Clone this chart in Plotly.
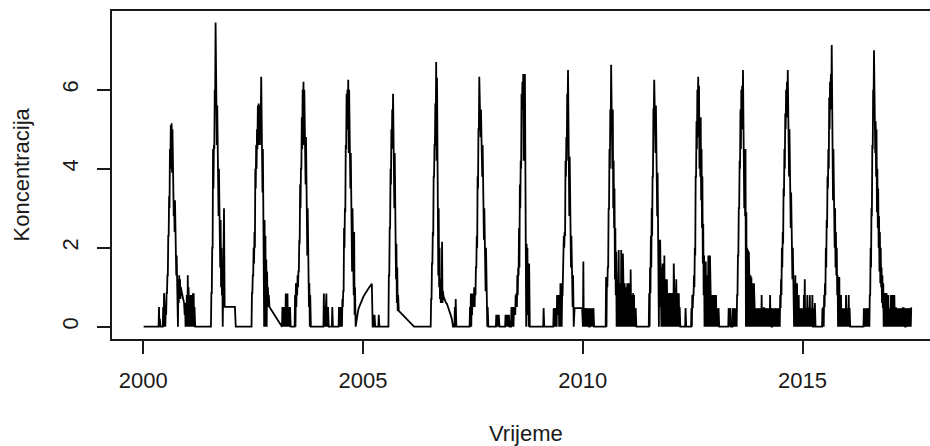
import plotly.graph_objects as go

# Weekly readings per calendar year (week index 0..51).
# A number = one reading that week; [a, b] = two readings that week; None = no reading.
y2000 = [0]*18 + [[0,0.5],[0,0.2]] + [0]*3 + [[0,0.5],[0,0.85],[0.2,0.5],[0,0.5],[0.3,0.85],[0.85,1.3],[1.3,2.3],[2.3,3.3],[3.0,4.5],[4.0,5.1],[4.0,5.15],[3.9,5.0],[3.5,4.5],[2.8,3.2],[2.4,3.2],[1.7,2.8],[1.3,1.8],[0.9,1.5],[0,1.2],[0.6,1.3],[0.8,1.2],[0.7,1.0],0.9,0.8,0.7,0.6,[0.3,0.6],[0,0.4],[0,0.8]]
y2001 = [[0,1.3],[0,1.0],[0,0.8],[0,0.8],[0,0.5],[0.3,0.8],[0,0.85],[0,0.85],[0,0.5]] + [0]*19 + [[0,0.85],[0.85,2.0],[2.0,4.5],[3.5,4.6],[4.5,6.0],[5.8,7.7],[5.6,6.7],[4.6,5.6],[3.5,4.6],[2.8,4.0],[2.6,3.5],[1.5,2.7],[1.0,2.0],[0.8,1.5],[0,0.9],[0.5,3.0],0.5] + [0.5]*7
y2002 = [0.5]*5 + [0]*19 + [[0,0.85],[0.85,1.3],[1.3,2.0],[1.6,2.4],[2.0,4.0],[3.5,4.6],[4.0,5.0],[4.5,5.6],[4.6,5.65],[5.0,5.6],[4.6,5.5],[5.4,6.33],[4.5,5.6],[3.4,4.5],[2.7,4.0],[0,2.7],[0.8,2.3],[0,1.7],[0,1.4],[0.5,1.0],[0.5,0.8],0.5] + [None]*6
y2003 = [None]*7 + [0] + [[0,0.5],[0,0.5],[0,0.5],[0,0.5],[0,0.84],[0.5,0.84],[0,0.84],[0,0.5],[0,0.5],[0,0.5]] + [0]*5 + [[0,0.8],[0,1.1],[0.5,1.1],[0.8,1.3],[1.0,1.4],[1.4,2.2],[2.1,3.6],[3.0,4.0],[4.0,5.3],[4.5,6.0],[5.3,6.2],[4.6,6.0],[4.2,5.4],[3.6,4.8],[2.5,3.4],[1.8,3.0],[1.3,2.0],[0.5,1.1],[0,0.8]] + [0]*10
y2004 = [0]*5 + [[0,0.84],[0,0.5],[0,0.5],[0.5,0.84],[0,0.5],[0,0.5]] + [0]*4 + [[0,0.5]] + [0]*7 + [[0,0.5],[0,0.5],[0,0.5],[0,0.5],[0,0.7],[0.5,0.9],[0.9,2.5],[2.0,3.0],[2.9,4.6],[4.5,5.9],[5.0,6.0],[5.6,6.25],[4.4,6.0],[4.0,5.2],[3.5,4.4],[3.0,3.8],[1.4,3.0],[1.4,2.3],[0.8,2.4],[0.3,1.0]] + [0,0.2,0.32,0.42,0.49,0.55,0.6,0.67,0.72]
y2005 = [0.76,0.8,0.84,0.87,0.9,0.93,0.97,1.0,1.03,1.06,1.09] + [0] + [[0,0.3],[0,0.3]] + [0]*4 + [[0,0.3]] + [0]*11 + [[0,1.3],[1.3,2.5],[2.5,4.0],[3.6,5.0],[4.5,5.5],[5.0,5.9],[3.6,4.8],[3.0,4.4],[2.1,3.3],[1.2,2.1],[0.6,1.5],[0.4,0.8],0.4] + [None]*9
y2006 = [None]*7 + [0]*21 + [[0,0.7],[0.7,1.6],[1.6,2.4],[2.3,3.8],[3.8,4.6],[4.6,5.66],[5.0,6.7],[4.2,6.3],[3.0,4.5],[1.3,3.0],[1.0,2.0],[0.7,1.2],[0.6,1.0],[0.7,2.15],[0.6,0.9]] + [0.76,0.7,0.65,0.6,0.58,0.52,0.46,0.41,0.36]
y2007 = [0.25,0.15,0,0,[0,0.5],[0,0.7]] + [0]*16 + [[0,0.5],[0,0.84],[0,0.84],[0.3,0.84],[0.5,0.84],[0.5,1.0],[0.5,1.0],[0.8,1.5],[1.5,2.3],[2.0,3.8],[3.5,5.0],[5.0,6.33],[5.2,5.7],[4.8,5.5],[4.2,5.0],[3.8,4.6],[2.8,3.8],[2.2,3.0],[1.8,2.5],[0.9,2.0],[0.4,1.0],[0,0.5]] + [0]*8
y2008 = [0,[0,0.3],[0,0.3],0,[0,0.3],0] + [0]*6 + [[0,0.3],[0,0.2],[0,0.3],[0,0.2],[0,0.3],0] + [0] + [[0,0.5],[0,0.3],[0,0.5],[0,0.5],[0.3,0.5],[0.3,0.8],[0.5,0.85],[0.5,1.3],[0.8,1.5],[1.3,2.5],[1.5,3.6],[3.0,4.2],[4.0,5.9],[5.5,6.2],[5.5,6.4],[4.2,6.1],[4.4,6.4],[2.0,4.4],[0,2.1],[0.5,2.0],[0.3,1.0],[0,1.6]] + [0]*11
y2009 = [0]*5 + [[0,0.47]] + [0]*11 + [[0,0.47],[0,0.47],[0.3,0.47],[0,0.47],[0,0.8],[0.47,0.8],[0.3,0.8],[0,0.47],[0,1.1],[0.47,1.1],[0,0.8],[0.8,1.5],[1.0,2.3],[2.0,2.4],[2.3,4.2],[3.8,4.8],[4.2,5.9],[5.5,6.5],[4.0,5.8],[2.8,4.3],[2.3,3.0],[1.5,2.3],[1.0,1.9],[0.5,1.3],0] + [0.47]*10
y2010 = [[0,1.65],[0,0.47],[0,0.47],0.47,[0,0.47],[0,0.47],[0,0.47],0,[0,0.47],[0,0.47],[0,0.47],[0,0.47],[0,0.47]] + [0]*14 + [[0,1.26],[0,1.26],[1.0,1.5],[1.5,3.0],[2.96,4.5],[4.0,5.5],[5.0,6.63],[4.5,6.0],[4.0,5.5],[3.0,4.2],[2.5,3.5],[1.2,2.5],[0.8,1.9],[0,1.2],[0,1.0],[0.47,1.94],[0,1.1],[0.47,1.0],[0,1.94],[0.47,1.0],[0,1.85],[0.47,0.8],[0,1.1],[0.47,0.8],[0,1.0]]
y2011 = [[0.47,1.1],[0,0.8],[0.47,1.1],[0,0.8],[0,1.45],[0.47,0.8],[0,0.8],[0.47,0.85],[0,0.8],[0,0.47],[0,0.47]] + [0]*15 + [[0,0.85],[0,1.5],[0.85,2.3],[1.5,3.0],[2.3,3.8],[3.8,5.5],[5.5,6.25],[5.3,6.0],[4.4,5.6],[3.5,4.7],[2.8,3.9],[2.0,3.0],[0,2.2],[0.5,2.2],[0.5,1.7],[0,1.5],[0.5,1.6],[0,1.3],[0.5,1.8],[0,1.2],[0.5,1.1],[0,1.2],[0.5,0.85],[0,0.85],[0.5,0.85],[0,0.85]]
y2012 = [[0.5,0.85],[0,0.85],[0.5,0.85],[0,1.6],[0.5,0.85],[0,0.85],[0.5,1.2],[0,0.85],[0.5,0.85],[0,0.85],[0,0.5]] + [0]*6 + [[0,0.47]] + [0]*6 + [[0,0.47],[0,0.8],[0.47,0.8],[0.8,1.3],[1.0,2.0],[1.8,3.8],[3.8,5.2],[4.5,6.0],[5.5,6.33],[4.8,6.1],[4.0,5.0],[3.8,5.3],[3.2,4.5],[2.5,3.8],[1.6,2.6],[0.8,1.8],[0,1.3],[0.5,1.65],[0,1.3],[0.5,1.1],[0,1.8],[0.5,1.0],[0,1.8],[0.5,0.8],[0,0.8],[0.47,0.8],[0,0.8],[0.47,0.8]]
y2013 = [[0,0.8],[0.47,0.8],[0,0.47],[0,0.47],[0,0.47]] + [0]*11 + [[0,0.47],0,[0,0.47],0,0,[0,0.47],0,[0,0.47],[0,0.47],0,[0,0.8],[0.8,1.8],[1.8,3.0],[3.0,4.2],[4.0,5.5],[4.5,6.0],[5.0,6.1],[5.2,6.5],[4.2,5.4],[3.0,4.5],[2.8,4.5],[0,2.9],[0,2.0],[0.5,1.94],[0,1.9],[0.5,1.5],[0,1.3],[0.47,1.25],[0,1.1],[0.47,0.85],[0,1.1],[0.47,0.85],[0,0.47],[0,0.47],[0,0.47],[0,0.47]]
y2014 = [[0,0.47],[0,0.47],[0,0.47],[0,0.8],[0,0.47],[0,0.47],[0.47,0.47],[0,0.47],[0,0.47],0,[0,0.47],[0,0.47],[0,0.47],[0,0.8],[0,0.47],0,[0,0.47],[0,0.47],[0,0.47],[0,0.47],0,[0,0.47],[0,0.47],[0,0.47],[0,0.47]] + [[0,0.8],[0.47,1.2],[0.8,2.0],[1.5,2.4],[2.1,3.5],[3.3,4.5],[4.0,5.4],[5.0,6.0],[5.3,6.2],[5.5,6.5],[4.6,5.8],[3.8,5.0],[3.0,4.0],[2.5,3.4],[1.8,2.8],[1.2,2.0],[0.8,1.4],[0,1.0],[0.47,1.3],[0,0.85],[0.47,1.1],[0,0.47],[0,0.8],[0,0.47],[0,0.47],[0,0.47],[0,0.47]]
y2015 = [[0,0.47],[0,0.8],[0,1.2],[0,0.47],[0,0.47],[0,0.8],[0,0.47],[0.47,0.47],[0,0.8],[0,0.47],[0,0.47],[0,0.8],0,[0,0.47],[0,0.6]] + [0]*8 + [[0,0.47],[0,0.5],[0,0.8],[0.5,1.1],[0.8,2.0],[1.5,2.7],[2.5,3.8],[3.5,4.5],[4.0,5.8],[5.0,6.2],[5.8,6.4],[5.5,7.13],[4.0,6.0],[3.2,4.5],[2.5,3.8],[2.0,3.0],[1.5,2.4],[1.3,2.0],[0.8,1.3],[0,1.2],[0.5,1.26],[0,0.8],[0.47,0.8],[0,0.47],[0,0.47],[0,0.47],[0,0.47],[0,0.47],[0,0.8]]
y2016 = [[0,0.47],[0,0.47],[0,0.8],[0,0.47]] + [0]*16 + [[0,0.47],[0,0.47],[0,0.47],[0,0.47],[0,0.47],0,[0,0.47],[0,0.8],[0.8,2.0],[1.5,3.0],[2.8,4.6],[4.5,6.0],[5.7,7.0],[5.0,6.2],[4.4,5.2],[3.8,5.0],[2.9,4.0],[2.5,3.5],[2.0,2.8],[1.4,2.4],[1.1,2.0],[1.0,1.5],[0.6,1.3],[0.47,1.1],[0,0.85],[0.47,0.85],[0,0.85],[0.47,0.85],[0,0.47],[0,0.8],[0,0.47],[0,0.47]]
y2017 = [[0,0.8],[0,0.47],[0,0.8],[0,0.47],[0,0.8],[0,0.47],[0.47,0.47],[0,0.47],[0,0.47],[0,0.47],[0,0.47],[0,0.47],0,[0,0.47],[0,0.47],[0.47,0.47],[0,0.47],0,[0,0.47],[0,0.47],[0,0.47],0,[0,0.47],[0,0.47],[0,0.47],0.47]

years = list(range(2000, 2018))
yearly = [y2000, y2001, y2002, y2003, y2004, y2005, y2006, y2007, y2008,
          y2009, y2010, y2011, y2012, y2013, y2014, y2015, y2016, y2017]

x_ticks = [2000, 2005, 2010, 2015]
x_tick_labels = ["2000", "2005", "2010", "2015"]
y_ticks = [0, 2, 4, 6]
y_tick_labels = ["0", "2", "4", "6"]

xs, ys = [], []
for yr, vals in zip(years, yearly):
    for w, v in enumerate(vals):
        day0 = 7 * w
        if isinstance(v, list):
            xs.append(yr + (day0 + 1) / 365.25); ys.append(v[0])
            xs.append(yr + (day0 + 4.5) / 365.25); ys.append(v[1])
        else:
            xs.append(yr + (day0 + 3) / 365.25); ys.append(v)

FONT = "Liberation Sans, Arial, Helvetica, sans-serif"
INK = "#1a1a1a"

fig = go.Figure()
fig.add_trace(go.Scatter(x=xs, y=ys, mode="lines", connectgaps=True,
                         line=dict(color="#000000", width=1.8), hoverinfo="skip"))

axis_common = dict(showgrid=False, zeroline=False, showline=True, linecolor=INK, linewidth=1.5,
                   ticks="outside", ticklen=13, tickwidth=1.5, tickcolor=INK,
                   tickfont=dict(family=FONT, size=22, color=INK))

fig.update_layout(
    width=930, height=446,
    margin=dict(l=112, r=0, t=11, b=107),
    paper_bgcolor="white", plot_bgcolor="white",
    showlegend=False,
    xaxis=dict(range=[1999.288, 2017.90], tickvals=x_ticks, ticktext=x_tick_labels,
               mirror=True, ticklabelstandoff=8, **axis_common),
    yaxis=dict(range=[-0.311, 7.993], tickvals=y_ticks, ticktext=y_tick_labels,
               tickangle=-90, mirror=False, ticklabelstandoff=10, **axis_common),
    annotations=[
        dict(text="Vrijeme", xref="paper", yref="paper", x=(526 - 112) / 818, y=(339 - 433) / 328,
             xanchor="center", yanchor="middle", showarrow=False,
             font=dict(family=FONT, size=22, color=INK)),
        dict(text="Koncentracija", xref="paper", yref="paper", x=(20.5 - 112) / 818, y=0.5,
             xanchor="center", yanchor="middle", textangle=-90, showarrow=False,
             font=dict(family=FONT, size=22, color=INK)),
    ],
)

fig.write_html("out.html", config={"displayModeBar": False},
               post_script="document.body.style.margin='0';document.body.style.padding='0';")
